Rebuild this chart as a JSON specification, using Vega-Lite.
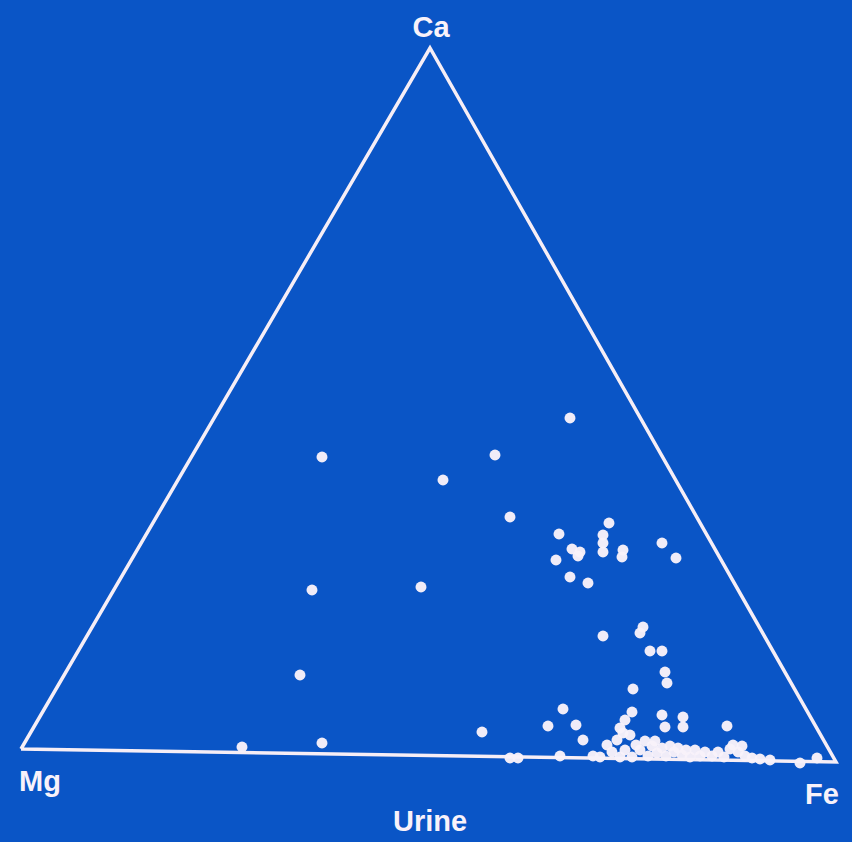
{
  "$schema": "https://vega.github.io/schema/vega-lite/v6.json",
  "width": 852,
  "height": 842,
  "padding": 0,
  "autosize": {"type": "fit", "contains": "padding"},
  "background": "#0a55c6",
  "config": {"view": {"stroke": null}},
  "datasets": {
    "triangle": [
      {"vertex": "Mg", "order": 0, "x": 21, "y": 749},
      {"vertex": "Ca", "order": 1, "x": 430, "y": 48},
      {"vertex": "Fe", "order": 2, "x": 836, "y": 762},
      {"vertex": "Mg", "order": 3, "x": 21, "y": 749}
    ],
    "samples": [
      {"x":570,"y":418},{"x":322,"y":457},{"x":495,"y":455},{"x":443,"y":480},{"x":510,"y":517},{"x":312,"y":590},{"x":421,"y":587},{"x":300,"y":675},{"x":322,"y":743},{"x":242,"y":747},{"x":482,"y":732},
      {"x":609,"y":523},{"x":559,"y":534},{"x":603,"y":535},{"x":603,"y":543},{"x":603,"y":552},{"x":572,"y":549},{"x":580,"y":552},{"x":578,"y":556},{"x":556,"y":560},{"x":623,"y":550},{"x":622,"y":557},{"x":662,"y":543},{"x":676,"y":558},{"x":570,"y":577},{"x":588,"y":583},
      {"x":603,"y":636},{"x":643,"y":627},{"x":640,"y":633},{"x":650,"y":651},{"x":662,"y":651},{"x":665,"y":672},{"x":667,"y":683},{"x":633,"y":689},
      {"x":632,"y":712},{"x":625,"y":720},{"x":620,"y":728},{"x":630,"y":735},{"x":662,"y":715},{"x":665,"y":727},{"x":683,"y":717},{"x":683,"y":727},{"x":727,"y":726},{"x":583,"y":740},{"x":607,"y":745},{"x":563,"y":709},{"x":548,"y":726},{"x":576,"y":725},{"x":617,"y":740},{"x":623,"y":733},
      {"x":510,"y":758},{"x":518,"y":758},{"x":560,"y":756},{"x":593,"y":756},{"x":600,"y":757},{"x":612,"y":752},{"x":620,"y":757},{"x":625,"y":750},{"x":632,"y":757},{"x":636,"y":745},{"x":640,"y":750},{"x":645,"y":741},{"x":648,"y":756},{"x":652,"y":746},{"x":655,"y":741},{"x":657,"y":753},{"x":662,"y":748},{"x":666,"y":756},{"x":670,"y":746},{"x":674,"y":752},{"x":678,"y":748},{"x":682,"y":755},{"x":686,"y":750},{"x":690,"y":757},{"x":695,"y":750},{"x":700,"y":756},{"x":705,"y":752},{"x":712,"y":756},{"x":718,"y":752},{"x":724,"y":757},{"x":730,"y":749},{"x":733,"y":745},{"x":738,"y":752},{"x":742,"y":746},{"x":745,"y":756},{"x":752,"y":758},{"x":760,"y":759},{"x":770,"y":760},{"x":800,"y":763},{"x":817,"y":758}
    ],
    "labels": [
      {"text": "Ca", "x": 431, "y": 28},
      {"text": "Mg", "x": 40, "y": 782},
      {"text": "Fe", "x": 822, "y": 795},
      {"text": "Urine", "x": 430, "y": 822}
    ]
  },
  "layer": [
    {
      "data": {"name": "triangle"},
      "mark": {"type": "line", "color": "#f6eef6", "strokeWidth": 3.5, "strokeJoin": "miter"},
      "encoding": {
        "x": {"field": "x", "type": "quantitative", "scale": {"domain": [0, 852], "nice": false, "zero": false}, "axis": null},
        "y": {"field": "y", "type": "quantitative", "scale": {"domain": [0, 842], "nice": false, "zero": false, "reverse": true}, "axis": null},
        "order": {"field": "order"}
      }
    },
    {
      "data": {"name": "samples"},
      "mark": {"type": "circle", "color": "#f8f2fa", "opacity": 0.97, "size": 120},
      "encoding": {
        "x": {"field": "x", "type": "quantitative"},
        "y": {"field": "y", "type": "quantitative"}
      }
    },
    {
      "data": {"name": "labels"},
      "mark": {"type": "text", "color": "#f8f2fa", "font": "Liberation Sans", "fontWeight": "bold", "fontSize": 29, "align": "center", "baseline": "middle"},
      "encoding": {
        "x": {"field": "x", "type": "quantitative"},
        "y": {"field": "y", "type": "quantitative"},
        "text": {"field": "text"}
      }
    }
  ]
}
